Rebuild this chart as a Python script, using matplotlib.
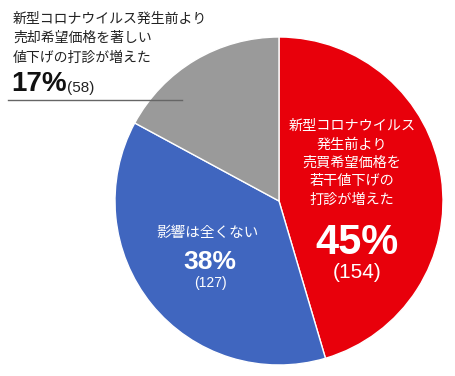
import matplotlib
matplotlib.use('Agg')
import matplotlib.pyplot as plt

plt.rcParams['font.family'] = ['Noto Sans CJK JP', 'DejaVu Sans']
NUM_FONT = ['Liberation Sans', 'DejaVu Sans']

# data
labels = ['新型コロナウイルス\n発生前より\n売買希望価格を\n若干値下げの\n打診が増えた',
          '影響は全くない',
          '新型コロナウイルス発生前より\n売却希望価格を著しい\n値下げの打診が増えた']
counts = [154, 127, 58]
pcts = [45, 38, 17]
colors = ['#E8000B', '#4066BF', '#9A9A9A']

W, H = 456, 376
fig = plt.figure(figsize=(W / 100, H / 100), dpi=100)
ax = fig.add_axes([0, 0, 1, 1])

cx, cy, r = 279, H - 201, 164
ax.pie(counts, colors=colors, startangle=90, counterclock=False,
       center=(cx, cy), radius=r, frame=True,
       wedgeprops=dict(edgecolor='white', linewidth=1))
ax.set_xlim(0, W)
ax.set_ylim(0, H)
ax.set_aspect('equal')
ax.axis('off')

# red slice text
ax.text(352, H - 163, labels[0], ha='center', va='center', color='white',
        fontsize=10.2, linespacing=1.4)
ax.text(357, H - 243, f'{pcts[0]}%', ha='center', va='center', color='white',
        fontsize=30, fontweight='bold', family=NUM_FONT)
ax.text(357, H - 272, f'({counts[0]})', ha='center', va='center', color='white',
        fontsize=15, family=NUM_FONT)

# blue slice text
ax.text(208, H - 233, labels[1], ha='center', va='center', color='white',
        fontsize=10.5)
ax.text(210, H - 262, f'{pcts[1]}%', ha='center', va='center', color='white',
        fontsize=19, fontweight='bold', family=NUM_FONT)
ax.text(210, H - 283, f'({counts[1]})', ha='center', va='center', color='white',
        fontsize=10, family=NUM_FONT)

# gray slice callout
ax.text(13, H - 38, labels[2], ha='left', va='center', color='#222222',
        fontsize=10, linespacing=1.5)
ax.text(11, H - 84, f'{pcts[2]}%', ha='left', va='center', color='#111111',
        fontsize=20, fontweight='bold', family=NUM_FONT)
ax.text(67, H - 88, f'({counts[2]})', ha='left', va='center', color='#222222',
        fontsize=11, family=NUM_FONT)
ax.plot([8, 182], [H - 100, H - 100], color='#666666', lw=1)

fig.savefig('out.png', dpi=100)
